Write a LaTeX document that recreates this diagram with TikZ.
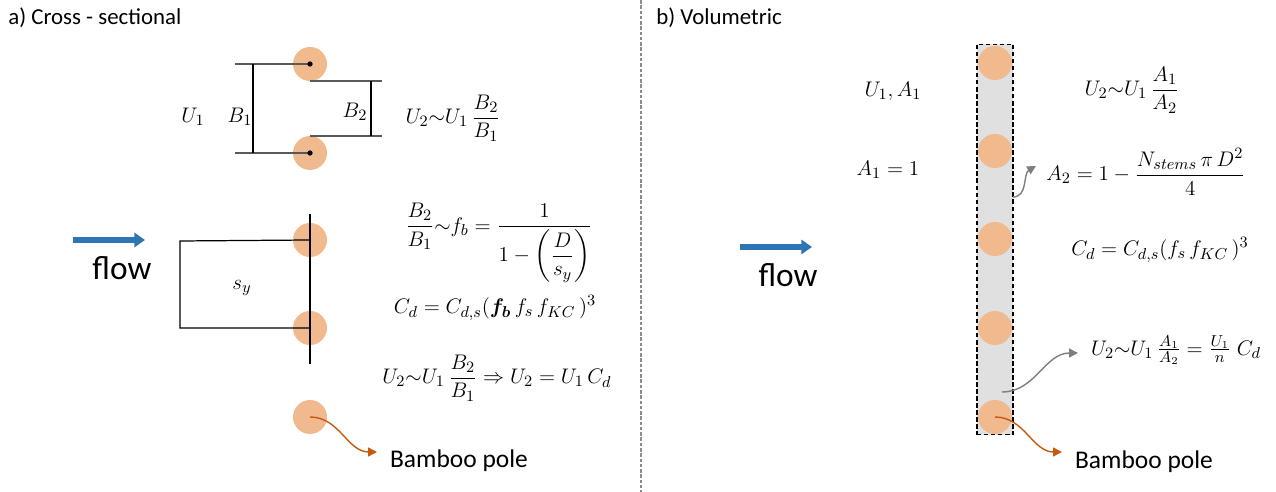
\documentclass[tikz,border=0pt]{standalone}
\usepackage{amsmath, amssymb}
\usepackage[no-math]{fontspec}
\setmainfont{Carlito}
\usetikzlibrary{arrows.meta, positioning, calc}
\definecolor{polefill}{RGB}{240,186,142}
\definecolor{flowblue}{RGB}{46,117,182}
\definecolor{polearrow}{RGB}{197,90,17}
\definecolor{notegray}{RGB}{127,127,127}
\definecolor{stripfill}{RGB}{224,224,224}
\tikzset{
    % bamboo pole seen from above
    pole/.style={circle, fill=polefill, inner sep=0pt, minimum size=0.68cm},
    % small dot marking a pole centre
    pdot/.style={circle, fill=black, inner sep=0pt, minimum size=3pt},
    % gap widths between the poles
    dimline/.style={draw=black!65, line width=1pt},
    gapline/.style={draw=black, line width=0.7pt},
    % arrows
    flowarrow/.style={-{Triangle[length=6pt, width=8pt]}, flowblue, line width=3pt},
    callout/.style={-{Triangle[length=5pt, width=5pt]}, polearrow, line width=0.8pt},
    notearrow/.style={-{Triangle[length=5pt, width=5pt]}, notegray, line width=0.8pt},
    % texts
    eq/.style={font=\fontsize{12.5}{15}\selectfont, inner sep=1pt},
    lbl/.style={font=\fontsize{14.5}{17}\selectfont, inner sep=1pt},
    flowlbl/.style={font=\fontsize{19}{22}\selectfont, inner sep=1pt},
    paneltitle/.style={font=\fontsize{13}{16}\selectfont, anchor=west, inner sep=0pt},
}

\begin{document}
\begin{tikzpicture}[x=0.02cm, y=-0.02cm]
    \useasboundingbox (0,0) rectangle (1276,492);

    % panel divider
    \draw[black!45, line width=1pt, dash pattern=on 2pt off 1pt] (641,0) -- (641,492);

    % ===== a) cross-sectional =====
    \node[paneltitle] (ta) at (8,18) {a) Cross - sectional};

    \foreach \n/\y in {1/64, 2/153, 3/240, 4/328, 5/417}
        \node[pole] (a\n) at (310,\y) {};

    % upstream width B_1
    \draw[dimline] (a1.center) -- ++(-75,0) coordinate (b1t);
    \draw[dimline] (a2.center) -- ++(-75,0) coordinate (b1b);
    \draw[gapline] ($(b1t)+(18,0)$) -- ($(b1b)+(18,0)$);
    \node[pdot] at (a1) {};
    \node[pdot] at (a2) {};

    % gap width B_2
    \draw[dimline] (a1.south) -- ++(72,0) coordinate (b2t);
    \draw[dimline] (a2.north) -- ++(72,0) coordinate (b2b);
    \draw[gapline] ($(b2t)+(-11,0)$) -- ($(b2b)+(-11,0)$);

    \node[eq] (u1)  at (193,117) {$U_1$};
    \node[eq] (lb1) at (240,117) {$B_1$};
    \node[eq] (lb2) at (355,112) {$B_2$};
    \node[eq] (eqa1) at (453,118) {$U_2{\sim}U_1\,\dfrac{B_2}{B_1}$};

    % spacing s_y
    \coordinate (gtop) at (310,214);
    \coordinate (gbot) at (310,364);
    \draw[gapline] (gtop) -- (gbot);
    \coordinate (sl1) at (180,241);
    \coordinate (sl2) at (180,328);
    \draw[gapline] (a3.center) -- (sl1) -- (sl2) -- (a4.center);
    \node[eq] (sy) at (242,288) {$s_y$};

    \node[eq] (eqa2) at (499,243)
        {$\dfrac{B_2}{B_1}{\sim}f_b=\dfrac{1}{1-\left(\dfrac{D}{s_y}\right)}$};
    \node[eq] (eqa3) at (495,308) {$C_d=C_{d,s}(\boldsymbol{f_b}\,f_s\,f_{KC}\,)^3$};
    \node[eq] (eqa4) at (497,378)
        {$U_2{\sim}U_1\,\dfrac{B_2}{B_1}\Rightarrow U_2=U_1\,C_d$};

    % flow
    \coordinate (fa0) at (73,240);
    \coordinate (fa1) at (145,240);
    \draw[flowarrow] (fa0) -- (fa1);
    \node[flowlbl] (fla) at (122,268) {flow};

    % pole callout
    \node[lbl] (bpa) at (459,461) {Bamboo pole};
    \coordinate (bpa-in) at (377,452);
    \draw[callout] (a5.center) to[out=0, in=180] (bpa-in);

    % ===== b) volumetric =====
    \node[paneltitle] (tb) at (656,18) {b) Volumetric};

    \node[draw, line width=0.6pt, dash pattern=on 2.5pt off 1.5pt, fill=stripfill,
          minimum width=0.72cm, minimum height=7.82cm, inner sep=0pt] (strip) at (995,239.5) {};
    \foreach \n/\y in {1/63, 2/151, 3/239, 4/328, 5/417}
        \node[pole] (b\n) at (995,\y) {};

    \node[eq] (ua)   at (893,91)  {$U_1,A_1$};
    \node[eq] (aone) at (888,170) {$A_1=1$};
    \node[eq] (eqb1) at (1132,90) {$U_2{\sim}U_1\,\dfrac{A_1}{A_2}$};
    \node[eq] (eqb2) at (1146,172) {$A_2=1-\dfrac{N_{stems}\,\pi\,D^2}{4}$};
    \node[eq] (eqb3) at (1160,250) {$C_d=C_{d,s}(f_s\,f_{KC}\,)^3$};
    \node[eq] (eqb4) at (1176,350) {$U_2{\sim}U_1\,\tfrac{A_1}{A_2}=\tfrac{U_1}{n}\;C_d$};

    % notes on the strip
    \coordinate (na0) at (1013,197);
    \coordinate (na1) at (1036,166);
    \draw[notearrow] (na0) to[out=0, in=210] (na1);
    \coordinate (nb0) at (1002,392);
    \coordinate (nb1) at (1078,353);
    \draw[notearrow] (nb0) to[out=0, in=180] (nb1);

    % flow
    \coordinate (fb0) at (740,247);
    \coordinate (fb1) at (812,247);
    \draw[flowarrow] (fb0) -- (fb1);
    \node[flowlbl] (flb) at (788,275) {flow};

    % pole callout
    \node[lbl] (bpb) at (1144,462) {Bamboo pole};
    \coordinate (bpb-in) at (1062,452);
    \draw[callout] (b5.center) to[out=0, in=180] (bpb-in);
\end{tikzpicture}
\end{document}
